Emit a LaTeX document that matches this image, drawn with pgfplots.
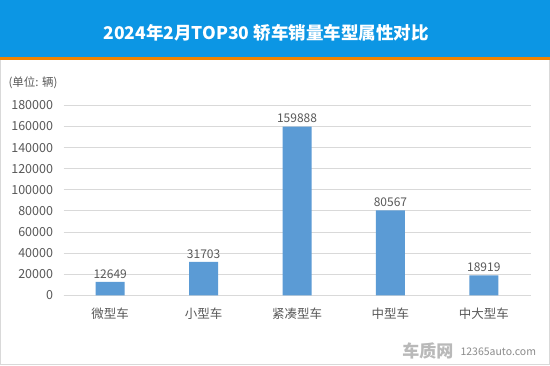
\documentclass[border=0pt]{standalone}
\usepackage{fontspec}
\setmainfont{Noto Sans CJK SC}
\usepackage{pgfplots}
\pgfplotsset{compat=1.18}
\definecolor{hdr}{RGB}{12,150,228}
\definecolor{orng}{RGB}{240,131,0}
\definecolor{barc}{RGB}{91,155,213}
\definecolor{txt}{RGB}{89,89,89}
\definecolor{grd}{RGB}{217,217,217}
\begin{document}
\begin{tikzpicture}[x=1bp,y=1bp]
\useasboundingbox (0,0) rectangle (550,365);
\fill[white] (0,0) rectangle (550,365);
\draw[grd,line width=1bp] (0.5,0.5) rectangle (549.5,306);
\fill[hdr] (0,308) rectangle (550,365);
\fill[orng] (0,305) rectangle (550,308.5);
\node[white,font=\fontsize{17.5bp}{19bp}\selectfont\bfseries] at (266,332) {2024年2月TOP30 轿车销量车型属性对比};
\node[txt,font=\fontsize{11.5bp}{13bp}\selectfont,anchor=west] at (5,282) {(单位: 辆)};
\begin{axis}[
  at={(68,66)}, anchor=south west,
  scale only axis, width=467bp, height=190bp,
  xmin=-0.5, xmax=4.5, ymin=0, ymax=180000,
  ytick={0,20000,...,180000},
  xtick={0,1,2,3,4},
  xticklabels={微型车,小型车,紧凑型车,中型车,中大型车},
  scaled y ticks=false,
  /pgf/number format/assume math mode=true,
  yticklabel={\pgfmathprintnumber[fixed,1000 sep={}]{\tick}},
  tick style={draw=none},
  ymajorgrids, grid style={grd, line width=0.8bp},
  axis line style={draw=none},
  axis x line*=bottom, axis y line*=left,
  ticklabel style={txt,font=\fontsize{12.5bp}{14bp}\selectfont},
  xticklabel style={yshift=-9bp},
  yticklabel style={xshift=-7bp},
  enlargelimits=false, clip=false,
]
\draw[grd,line width=1bp] (axis cs:-0.5,0) -- (axis cs:4.5,0);
\addplot[ybar, bar width=29bp, fill=barc, draw=none,
  nodes near coords, nodes near coords style={txt,font=\fontsize{12bp}{14bp}\selectfont, /pgf/number format/.cd, fixed, 1000 sep={}, assume math mode=true}]
  coordinates {(0,12649) (1,31703) (2,159888) (3,80567) (4,18919)};
\end{axis}
\node[gray!55,font=\fontsize{17bp}{18bp}\selectfont\bfseries,anchor=east] at (457,14) {车质网};
\node[gray!90,font=\fontsize{10.5bp}{12bp}\selectfont,anchor=west] at (457,13) {12365auto.com};
\end{tikzpicture}
\end{document}
